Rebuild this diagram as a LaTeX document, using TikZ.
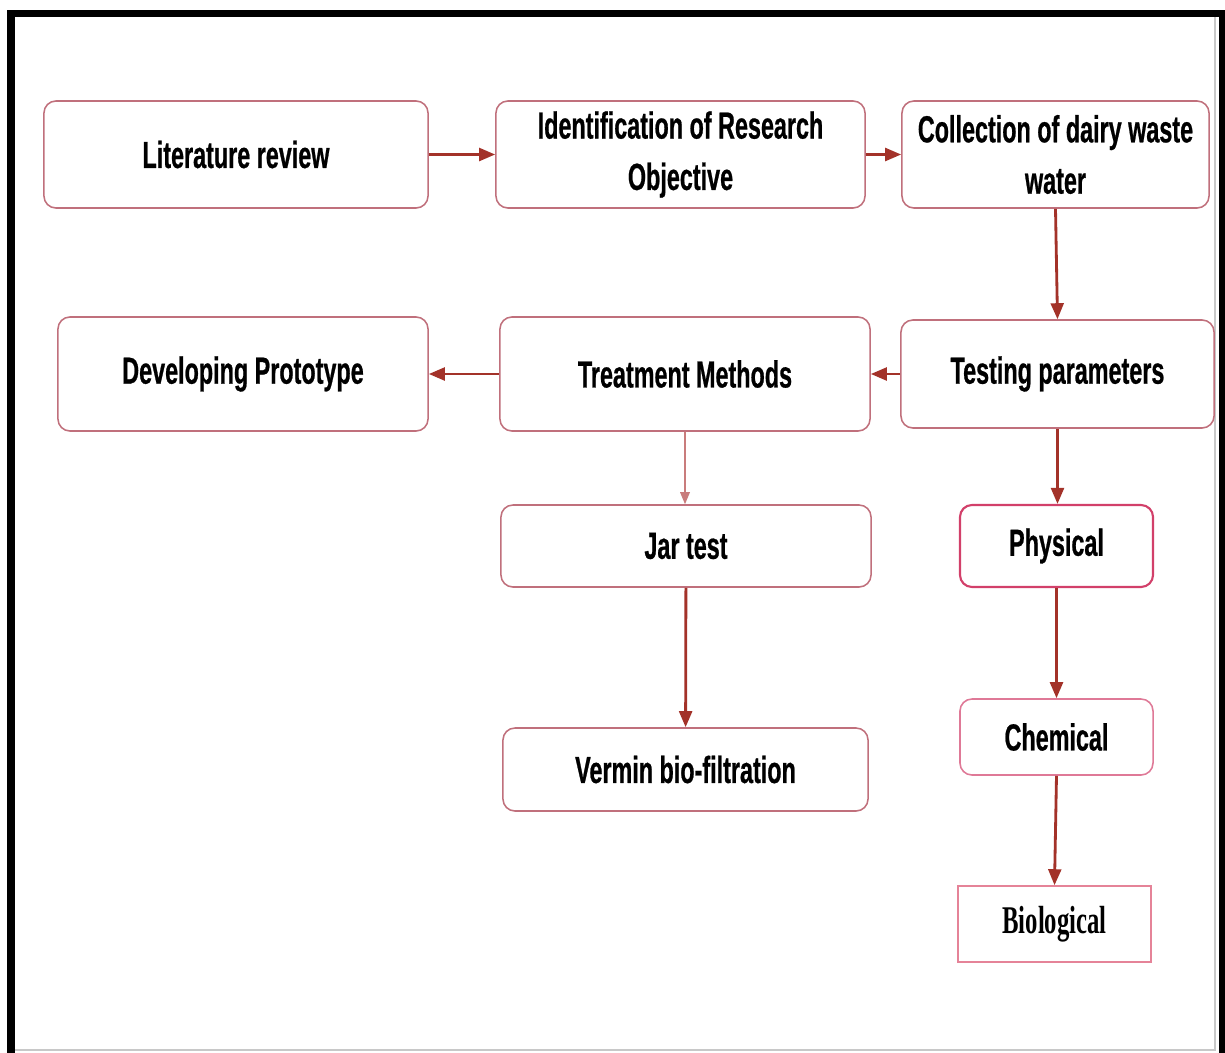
\documentclass[tikz,border=0pt]{standalone}
\usepackage{fontspec}
\setmainfont{Liberation Sans}[FakeStretch=0.62, BoldFeatures={FakeBold=0.6}]
\newfontfamily\condserif{Liberation Serif}[FakeStretch=0.63]
\usetikzlibrary{arrows.meta, positioning}
\definecolor{cedge}{HTML}{C0707C}
\definecolor{ccrimson}{HTML}{D2406A}
\definecolor{cpink}{HTML}{E58398}
\definecolor{carrow}{HTML}{A33229}
\definecolor{cthin}{HTML}{C97C7C}
\definecolor{cgrey}{HTML}{C8C8C8}
\tikzset{
  every picture/.style={x=0.025cm, y=-0.025cm},
  stepbox/.style={draw=#1, fill=white, rounded corners=0.3cm, line width=1.1pt, align=center,
    inner sep=2pt, font=\bfseries\fontsize{26.8}{36.5}\selectfont},
  stepbox/.default=cedge,
  arrow/.style={-{Triangle[length=0.4cm, width=0.32cm]}, draw=carrow, line width=2pt},
  thinarrow/.style={-{Triangle[length=0.3cm, width=0.24cm]}, draw=cthin, line width=1pt},
}

\begin{document}
\begin{tikzpicture}
  \useasboundingbox (0,0) rectangle (1225,1053);
  % window frame
  \fill[white] (0,0) rectangle (1225,1053);
  \fill[black] (7,10) rectangle (1225,17);
  \fill[black] (7,10) rectangle (15,1053);
  \fill[black] (1219,10) rectangle (1225,1053);
  \draw[cgrey, line width=1.5pt] (1215,17) -- (1215,1050) -- (15,1050);
  % top row
  \node[stepbox, minimum width=9.6cm, minimum height=2.675cm] (lit) at (236,154.5) {Literature review};
  \node[stepbox, minimum width=9.225cm, minimum height=2.675cm] (ident) at (680.5,154.5) {Identification of Research\\Objective};
  \node[stepbox, minimum width=7.675cm, minimum height=2.675cm] (coll) at (1055.5,154.5) {Collection of dairy waste\\water};
  % middle row
  \node[stepbox, minimum width=9.25cm, minimum height=2.85cm] (proto) at (243,374) {Developing Prototype};
  \node[stepbox, minimum width=9.25cm, minimum height=2.85cm] (treat) at (685,374) {Treatment Methods};
  \node[stepbox, minimum width=7.825cm, minimum height=2.7cm] (test) at (1057.5,374) {Testing parameters};
  % treatment branch
  \node[stepbox, minimum width=9.25cm, minimum height=2.05cm] (jar) at (686,546) {Jar test};
  \node[stepbox, minimum width=9.125cm, minimum height=2.075cm] (vermin) at (685.5,769.5) {Vermin bio-filtration};
  % parameter branch
  \node[stepbox=ccrimson, line width=1.5pt, minimum width=4.825cm, minimum height=2.05cm] (phys) at (1056.5,546) {Physical};
  \node[stepbox, draw=ccrimson!70, minimum width=4.825cm, minimum height=1.9cm] (chem) at (1056.5,737) {Chemical};
  \node[stepbox=cpink, rounded corners=0pt, minimum width=4.825cm, minimum height=1.9cm,
    font=\condserif\bfseries\fontsize{27.9}{33}\selectfont] (bio) at (1054.5,924) {Biological};
  % connectors
  \draw[arrow] (lit) -- (ident);
  \draw[arrow] (ident) -- (coll);
  \draw[arrow] (coll.south) -- (test.north);
  \draw[arrow] (test) -- (treat);
  \draw[arrow] (treat) -- (proto);
  \draw[thinarrow] (treat.south) -- (treat.south |- jar.north);
  \draw[arrow] (jar) -- (vermin);
  \draw[arrow] (test.south) -- (test.south |- phys.north);
  \draw[arrow] (phys) -- (chem);
  \draw[arrow] (chem.south) -- (bio.north);
\end{tikzpicture}
\end{document}
